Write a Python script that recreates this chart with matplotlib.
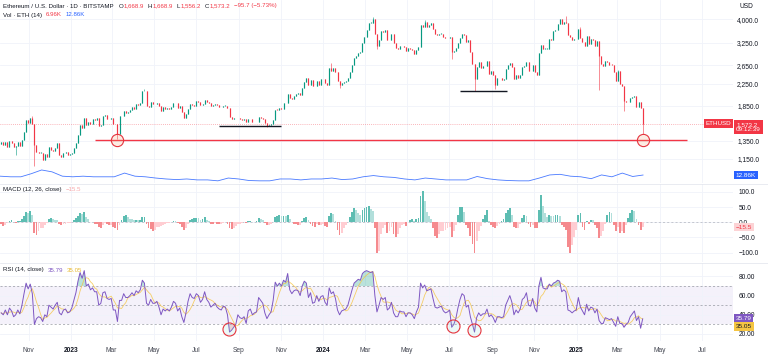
# ETH/USD daily chart (Bitstamp) with volume MA, MACD histogram and RSI panes
import numpy as np
import pandas as pd
import matplotlib
matplotlib.use("Agg")
import matplotlib.pyplot as plt
import matplotlib.dates as mdates
from matplotlib.lines import Line2D
from matplotlib.ticker import FixedLocator, NullLocator, NullFormatter

plt.rcParams['font.family'] = ['Liberation Sans', 'DejaVu Sans']

# ---------------- data (3-day bars from 2022-09-21) ----------------
start = "2022-09-21"
first_open = 1310

close = [
    # 2022
    1330, 1295, 1335, 1275, 1350, 1320, 1280, 1290, 1330, 1285,
    1360, 1460, 1620, 1580, 1650, 1570, 1300, 1220, 1215, 1215,
    1135, 1200, 1170, 1275, 1245, 1230, 1265, 1320, 1190, 1165,
    1215, 1220, 1190, 1195,
    # 2023
    1215, 1265, 1320, 1420, 1550, 1510, 1660, 1555, 1600, 1570,
    1640, 1630, 1650, 1540, 1555, 1690, 1700, 1645, 1640, 1660,
    1565, 1565, 1430, 1680, 1680, 1760, 1735, 1740, 1775, 1820,
    1790, 1875, 1860, 1890, 2100, 2100, 1850, 1820, 1910, 1870,
    1870, 1900, 1850, 1760, 1820, 1800, 1810, 1800, 1830, 1900,
    1890, 1810, 1840, 1750, 1650, 1720, 1790, 1880, 1860, 1850,
    1920, 1910, 1865, 1880, 1940, 1910, 1890, 1850, 1860, 1880,
    1855, 1830, 1825, 1850, 1850, 1810, 1670, 1640, 1650, 1655,
    1650, 1635, 1630, 1635, 1595, 1640, 1640, 1590, 1590, 1595,
    1670, 1655, 1645, 1580, 1540, 1555, 1565, 1630, 1785, 1780,
    1810, 1800, 1890, 1890, 2050, 1980, 1960, 2010, 2060, 2070,
    2030, 2160, 2290, 2360, 2230, 2320, 2200, 2200, 2310, 2230, 2340,
    # 2024
    2350, 2270, 2220, 2580, 2520, 2590, 2490, 2310, 2220, 2270,
    2280, 2300, 2370, 2490, 2660, 2820, 2880, 2970, 2990, 3240,
    3430, 3630, 3880, 3880, 4000, 3520, 3160, 3320, 3590, 3560,
    3640, 3310, 3330, 3510, 3240, 3100, 3060, 3150, 3140, 3130,
    3010, 3100, 3070, 3040, 2930, 3030, 3120, 3790, 3730, 3890,
    3750, 3790, 3860, 3680, 3500, 3480, 3510, 3520, 3420, 3370,
    3380, 3420, 2990, 3020, 3100, 3240, 3390, 3510, 3480, 3280,
    3320, 2980, 2690, 2340, 2610, 2720, 2590, 2640, 2630, 2760,
    2460, 2510, 2420, 2230, 2360, 2360, 2320, 2340, 2560, 2650,
    2700, 2600, 2350, 2440, 2370, 2440, 2610, 2640, 2740, 2530,
    2510, 2660, 2490, 2420, 2960, 3190, 3070, 3080, 3080, 3360,
    3330, 3590, 3640, 3850, 4000, 3820, 3900, 3870, 3470, 3420, 3330, 3350,
    # 2025
    3350, 3660, 3380, 3260, 3140, 3450, 3210, 3340, 3310, 3150,
    3300, 2870, 2690, 2630, 2760, 2720, 2670, 2660, 2500, 2300,
    2520, 2240, 2200, 1920, 1910, 1910, 1980, 2000, 2010, 1830,
    1910, 1810, 1573.2,
]

# notable wicks beyond the bar bodies
wick_low = {"2022-10-13": 1190, "2022-11-09": 1075, "2023-03-10": 1370,
            "2023-10-12": 1530, "2024-01-23": 2165, "2024-03-19": 3060,
            "2024-07-05": 2810, "2024-08-05": 2110, "2024-09-06": 2150,
            "2025-02-03": 2120, "2025-03-11": 1760, "2025-04-07": 1430}
wick_high = {"2022-11-05": 1680, "2023-04-16": 2140, "2024-01-12": 2715,
             "2024-03-12": 4090, "2024-05-27": 3975, "2024-12-16": 4105,
             "2025-01-06": 3740, "2025-03-02": 2550}

macd_hist = [
    -5, -12, -8, -3, 4, 6, 2, -2, 3, 5,
    10, 22, 35, 32, 38, 25, -35, -42, -30, -20,
    -18, -8, -2, 12, 15, 12, 8, 6, -6, -10,
    -7, -4, -3, -2,
    2, 8, 14, 22, 32, 28, 35, 18, 10, 2,
    0, -4, -6, -16, -20, -8, -2, -6, -9, -8,
    -16, -20, -26, -8, 8, 22, 24, 18, 12, 10,
    6, 8, 6, 8, 18, 19, -4, -18, -22, -28,
    -24, -16, -14, -12, -8, -6, -3, -2, 2, 5,
    4, -3, -6, -16, -25, -20, -6, 8, 12, 13,
    15, 13, 8, 10, 19, 9, 3, -4, -5, -3,
    -4, -6, -5, -2, 1, -4, -20, -22, -18, -12,
    -6, -4, -3, 2, -3, 3, 5, 2, 2, 3,
    13, 10, 6, -2, -9, -8, -5, 2, 16, 22,
    24, 20, 22, 20, 24, 10, 2, -4, -6, -9,
    -8, 4, 14, 19, 6, -4, -12, -14, -6, -10, -8,
    -5, -12, -14, 22, 30, 26, 4, -25, -42, -36,
    -20, -8, 0, 18, 35, 48, 40, 30, 24, 40,
    48, 50, 52, 45, 38, -20, -100, -95, -40, -20,
    -10, -35, -30, -15, -40, -47, -40, -20, -10, -6,
    -12, 2, 8, 10, 4, 12, 14, 85, 103, 70,
    35, 20, 10, -20, -45, -52, -40, -30, -28, -25,
    -18, -15, -48, -30, -10, 25, 50, 51, 35, -10,
    -20, -45, -70, -102, -60, -30, -12, 10, 25, 40,
    5, -8, -15, -20, -12, -5, 5, 12, 30, 40,
    46, 25, -15, -20, -18, -5, 15, 24, 22, -5,
    -15, -10, -18, -20, 40, 90, 55, 30, 18, 24,
    22, 20, 24, 25, 22, -10, -15, -25, -80, -102, -75, -50,
    -25, 25, 30, -15, -25, 5, -5, 8, 6, -10,
    -20, -52, -45, -30, -5, 25, 35, 30, -10, -30,
    -15, -36, -30, -35, -10, 15, 30, 40, 38, 10,
    -10, -25, -15.5,
]

rsi = [
    42, 40, 45, 40, 47, 44, 38, 40, 45, 41,
    50, 62, 73, 67, 72, 62, 30, 36, 38, 37,
    33, 40, 38, 50, 48, 46, 50, 53, 42, 40,
    45, 46, 42, 43,
    47, 55, 63, 75, 84, 78, 86, 70, 72, 66,
    68, 64, 64, 50, 52, 63, 64, 57, 56, 57,
    45, 45, 33, 55, 55, 62, 58, 58, 60, 63,
    60, 65, 63, 66, 76, 73, 52, 50, 56, 52,
    52, 54, 48, 40, 46, 44, 46, 44, 48, 54,
    52, 44, 47, 38, 32, 42, 54, 62, 58, 57,
    62, 60, 53, 56, 64, 56, 53, 48, 50, 52,
    48, 46, 45, 49, 48, 40, 22, 24, 27, 30,
    40, 37, 36, 38, 31, 44, 46, 40, 42, 43,
    58, 55, 52, 42, 36, 40, 43, 55, 74, 70,
    73, 70, 76, 74, 83, 66, 62, 65, 66, 65,
    60, 70, 75, 73, 58, 63, 52, 53, 60, 54, 59,
    60, 53, 50, 68, 62, 64, 57, 45, 40, 44,
    45, 46, 50, 58, 66, 73, 75, 77, 76, 83,
    85, 86, 85, 84, 85, 60, 43, 50, 58, 56,
    58, 45, 47, 53, 42, 38, 38, 44, 43, 43,
    38, 42, 42, 40, 36, 43, 48, 73, 68, 71,
    65, 66, 67, 57, 48, 47, 48, 49, 44, 42,
    43, 45, 27, 30, 36, 47, 56, 62, 60, 48,
    50, 38, 30, 22, 37, 42, 39, 41, 41, 46,
    38, 40, 37, 32, 38, 38, 37, 38, 50, 55,
    60, 53, 40, 45, 42, 46, 56, 58, 63, 50,
    49, 57, 47, 43, 70, 79, 68, 67, 67, 72,
    70, 73, 74, 76, 75, 64, 66, 64, 45, 44, 42, 44,
    45, 58, 48, 44, 40, 51, 44, 48, 47, 42,
    46, 34, 31, 31, 37, 36, 35, 36, 32, 28,
    38, 31, 31, 27, 30, 32, 38, 41, 44, 34,
    38, 26, 35.79,
]

# 14-period volume MA (thousand ETH), sampled every ~15 days
vol_ma_k = [11, 10, 10, 15, 21, 18, 11, 10, 11, 10, 10, 10, 16, 11, 10, 8, 6.5,
            5.5, 6.5, 5, 5, 3.5, 8, 6.5, 4, 3.5, 3.5, 6.5, 6.5, 5, 6.5, 6.5, 8,
            5.5, 6.5, 10, 12, 10, 9, 6.5, 5, 8, 6.5, 5, 5, 5, 10.5, 7, 5, 4,
            3.5, 3.5, 8, 13, 14, 11, 10, 7, 13, 10, 16, 10.5, 12.86]

price_ticks = [1150, 1350, 1850, 2250, 2650, 3250, 4000]
macd_ticks = [-100, -50, 0, 50, 100]
rsi_ticks = [20, 40, 60, 80]

# drawn annotations: support lines and touch circles
support_red = (1360, "2023-02-05", "2025-06-10")
support_black = [(1540, "2023-08-03", "2023-11-01"), (2113, "2024-07-17", "2024-09-23")]
price_touches = [("2023-03-09", 1365), ("2025-04-07", 1365)]
rsi_touches = [("2023-08-17", 25), ("2024-07-06", 28), ("2024-08-06", 24)]

# ---------------- derived series ----------------
cl = np.array(close, dtype=float)
op = np.r_[first_open, cl[:-1]]
hi = np.maximum(op, cl)
lo = np.minimum(op, cl)
t0 = pd.Timestamp(start)
for d, v in wick_low.items():
    k = (pd.Timestamp(d) - t0).days // 3
    lo[k] = min(lo[k], v)
for d, v in wick_high.items():
    k = (pd.Timestamp(d) - t0).days // 3
    hi[k] = max(hi[k], v)

bars = pd.date_range(t0, periods=len(cl), freq="3D")
xc = mdates.date2num(bars) + 1.5
up = cl >= op
UP, DN = "#089981", "#F23645"
ccol = np.where(up, UP, DN)

rsi_a = np.array(rsi, dtype=float)
rsi_ma = pd.Series(rsi_a).rolling(5, min_periods=1).mean().values  # ~14 days

mh = np.array(macd_hist, dtype=float)
prev = np.r_[0, mh[:-1]]
mcol = np.where(mh >= 0, np.where(mh > prev, "#5DBDB2", "#B2DFDB"),
                np.where(mh < prev, "#F58A8E", "#FFCDD2"))

vol_x = mdates.date2num(pd.date_range(t0, bars[-1] + pd.Timedelta(days=2), periods=len(vol_ma_k)))

# ---------------- figure ----------------
W, H = 768, 356
fig = plt.figure(figsize=(W / 100, H / 100), dpi=100, facecolor="white")


def px_axes(x0, y0, x1, y1):
    return fig.add_axes([x0 / W, 1 - y1 / H, (x1 - x0) / W, (y1 - y0) / H])


ax = px_axes(0, 0, 733, 183)
axv = px_axes(0, 0, 733, 183)
axm = px_axes(0, 184, 733, 262)
axr = px_axes(0, 263, 733, 341)

xlim = (mdates.date2num(pd.Timestamp("2022-09-20 19:00")), mdates.date2num(pd.Timestamp("2025-08-15")))
month_ticks = pd.date_range("2022-11-01", "2025-07-01", freq="2MS")
mt = mdates.date2num(month_ticks)
GRID = "#F0F3FA"
TXT = "#131722"
FS = 4.8

for a in (ax, axv, axm, axr):
    a.set_xlim(xlim)
    for s in a.spines.values():
        s.set_visible(False)
    a.xaxis.set_major_locator(FixedLocator(mt))
    a.tick_params(length=0, labelsize=FS, labelcolor=TXT)
    a.yaxis.tick_right()
axv.patch.set_alpha(0)
axv.set_xticks([]); axv.set_yticks([])
for a in (ax, axm, axr):
    a.grid(True, color=GRID, lw=0.6)
    a.set_axisbelow(True)
ax.tick_params(labelbottom=False)
axm.tick_params(labelbottom=False)

# main price pane
ax.set_yscale("log")
ax.set_ylim(925, 4755)
ax.yaxis.set_minor_locator(NullLocator())
ax.yaxis.set_minor_formatter(NullFormatter())
ax.set_yticks(price_ticks)
ax.set_yticklabels([f"{v:,.1f}" for v in price_ticks])
ax.tick_params(axis="y", pad=3)

ax.vlines(xc, lo, hi, color=ccol, lw=0.4, zorder=2)
body_top = np.maximum(np.maximum(op, cl), np.minimum(op, cl) * 1.004)
ax.vlines(xc, np.minimum(op, cl), body_top, color=ccol, lw=0.85, zorder=2)

ax.axhline(cl[-1], color=DN, lw=0.5, ls=(0, (1, 2)), alpha=0.7, zorder=1)
p, d0, d1 = support_red
ax.hlines(p, mdates.datestr2num(d0), mdates.datestr2num(d1), color="#F23645", lw=1.0, zorder=3)
for p, d0, d1 in support_black:
    ax.hlines(p, mdates.datestr2num(d0), mdates.datestr2num(d1), color=TXT, lw=1.0, zorder=3)
for d, p in price_touches:
    ax.plot(mdates.datestr2num(d), p, "o", ms=8.8, mfc=(0.95, 0.6, 0.4, 0.18),
            mec="#E5343E", mew=0.8, zorder=4)

ytr = ax.get_yaxis_transform()
ax.text(0.9975, cl[-1], "ETHUSD", transform=ytr, ha="right", va="center", color="white",
        fontsize=4.5, bbox=dict(boxstyle="square,pad=0.3", fc=DN, ec="none"), zorder=6)
ax.annotate("1,573.2\n09:12:39", xy=(1.0, cl[-1]), xycoords=ytr, xytext=(2.2, -2.6),
            textcoords="offset points", ha="left", va="center", color="white", fontsize=4.6,
            linespacing=1.05, annotation_clip=False,
            bbox=dict(boxstyle="square,pad=0.3", fc=DN, ec="none"), zorder=6)
ax.text(1.0 + 6 / 733, 1.0 - 7 / 183, "USD", transform=ax.transAxes, ha="left", va="center",
        color=TXT, fontsize=FS)

# volume MA overlay at the bottom of the price pane
axv.set_ylim(0, 183 / 0.62)
axv.plot(vol_x, vol_ma_k, color="#2962FF", lw=0.6, alpha=0.85)
axv.text(1.0 + 2.5 / 733, vol_ma_k[-1], "12.86K", transform=axv.get_yaxis_transform(),
         ha="left", va="center", color="white", fontsize=4.6,
         bbox=dict(boxstyle="square,pad=0.3", fc="#2962FF", ec="none"))

# MACD pane
axm.set_ylim(-130.6, 126)
axm.set_yticks(macd_ticks)
axm.set_yticklabels([f"{v:.1f}".replace("-", "\u2212") for v in macd_ticks])
axm.tick_params(axis="y", pad=4)
axm.axhline(0, color="#B2B5BE", lw=0.5, ls=(0, (3, 3)), zorder=1)
axm.bar(xc, mh, width=2.6, color=mcol, lw=0, zorder=2)
axm.text(1.0 + 2.5 / 733, mh[-1], "\u221215.5", transform=axm.get_yaxis_transform(),
         ha="left", va="center", color="#F23645", fontsize=4.6, zorder=6,
         bbox=dict(boxstyle="square,pad=0.3", fc="#FCD3D5", ec="none"))

# RSI pane
axr.set_ylim(12.7, 93.96)
axr.set_yticks(rsi_ticks)
axr.set_yticklabels([f"{v:.2f}" for v in rsi_ticks])
axr.tick_params(axis="y", pad=4)
axr.axhspan(30, 70, color="#7E57C2", alpha=0.08, lw=0, zorder=0)
for lvl in (70, 50, 30):
    axr.axhline(lvl, color="#9598A1", lw=0.5, ls=(0, (3, 3)), zorder=1)
axr.fill_between(xc, rsi_a, 70, where=rsi_a > 70, interpolate=True, color="#089981", alpha=0.28, lw=0)
axr.fill_between(xc, rsi_a, 30, where=rsi_a < 30, interpolate=True, color="#F23645", alpha=0.22, lw=0)
axr.plot(xc, rsi_ma, color="#F5C542", lw=0.6, alpha=0.8, zorder=3)
axr.plot(xc, rsi_a, color="#7E57C2", lw=0.7, zorder=4)
for d, v in rsi_touches:
    axr.plot(mdates.datestr2num(d), v, "o", ms=9.4, mfc=(0.5, 0.85, 0.8, 0.15),
             mec="#E5343E", mew=0.8, zorder=5)
rtr = axr.get_yaxis_transform()
axr.text(1.0 + 2.5 / 733, rsi_a[-1], "35.79", transform=rtr, ha="left", va="center",
         color="white", fontsize=4.6, zorder=6,
         bbox=dict(boxstyle="square,pad=0.3", fc="#7E57C2", ec="none"))
axr.annotate("35.05", xy=(1.0, rsi_ma[-1]), xycoords=rtr, xytext=(1.8, -5.5),
             textcoords="offset points", ha="left", va="center", color=TXT, fontsize=4.6,
             annotation_clip=False, zorder=6,
             bbox=dict(boxstyle="square,pad=0.3", fc="#F5C542", ec="none"))

# date axis
labels = [str(d.year) if d.month == 1 else d.strftime("%b") for d in month_ticks]
axr.set_xticklabels(labels)
axr.tick_params(axis="x", pad=4, labelcolor="#434651")
for t, d in zip(axr.get_xticklabels(), month_ticks):
    if d.month == 1:
        t.set_fontweight("bold")
        t.set_color(TXT)

# pane separators
for yy in (183.5, 262.5):
    fig.add_artist(Line2D([0, 1], [1 - yy / H] * 2, transform=fig.transFigure,
                          color="#E0E3EB", lw=0.5))

# legends: sequential text runs, a number in the list is a gap in pixels
rend = fig.canvas.get_renderer()


def run(x, y, parts, size=4.4):
    for part in parts:
        if not isinstance(part, tuple):
            x += part
            continue
        s, c = part
        t = fig.text(x / W, 1 - y / H, s, color=c, fontsize=size, ha="left", va="center")
        x = t.get_window_extent(rend).x1


run(3, 6, [("Ethereum / U.S. Dollar \u00b7 1D \u00b7 BITSTAMP", TXT), 5,
           ("O", TXT), 0.6, ("1,668.9", DN), 3.5,
           ("H", TXT), 0.6, ("1,668.9", DN), 3.5,
           ("L", TXT), 0.6, ("1,556.2", DN), 3.5,
           ("C", TXT), 0.6, ("1,573.2", DN), 3.5,
           ("\u221295.7 (\u22125.73%)", DN)])
run(3, 15, [("Vol \u00b7 ETH (14)", TXT), 4, ("6.96K", DN), 3.5, ("12.86K", "#2962FF")])
run(3, 189.5, [("MACD (12, 26, close)", TXT), 4, ("\u221215.5", "#F7A6A9")])
run(3, 270, [("RSI (14, close)", TXT), 4, ("35.79", "#7E57C2"), 3.5, ("35.05", "#E8B931")])

fig.savefig("out.png", dpi=100, facecolor="white")
